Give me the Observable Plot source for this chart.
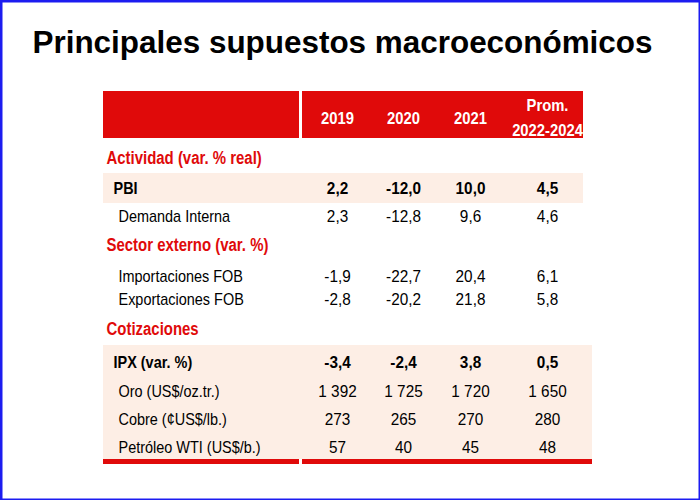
<!DOCTYPE html>
<html>
<head>
<meta charset="utf-8">
<script src="https://cdn.jsdelivr.net/npm/d3@7"></script>
<script src="https://cdn.jsdelivr.net/npm/@observablehq/plot@0.6"></script>
<style>
  html, body { margin: 0; padding: 0; background: #fff; }
  #chart { width: 700px; height: 500px; }
</style>
</head>
<body>
<div id="chart"></div>
<script>
// ---- data ----
const title = "Principales supuestos macroeconómicos";
const columnHeaders = ["2019", "2020", "2021", "Prom.\n2022-2024"];
const sections = ["Actividad (var. % real)", "Sector externo (var. %)", "Cotizaciones"];
const rowLabels = ["PBI", "Demanda Interna", "Importaciones FOB", "Exportaciones FOB",
                   "IPX (var. %)", "Oro (US$/oz.tr.)", "Cobre (¢US$/lb.)", "Petróleo WTI (US$/b.)"];
const pbi            = [2.2, -12.0, 10.0, 4.5];
const demandaInterna = [2.3, -12.8, 9.6, 4.6];
const importaciones  = [-1.9, -22.7, 20.4, 6.1];
const exportaciones  = [-2.8, -20.2, 21.8, 5.8];
const ipx            = [-3.4, -2.4, 3.8, 0.5];
const oro            = [1392, 1725, 1720, 1650];
const cobre          = [273, 265, 270, 280];
const petroleo       = [57, 40, 45, 48];

// ---- formatting (Spanish style) ----
const loc = d3.formatLocale({decimal: ",", thousands: " ", grouping: [3], currency: ["", ""], minus: "-"});
const fPct = loc.format(".1f");
const fLvl = loc.format(",d");

// ---- layout ----
const RED = "#e00a0a";
const PEACH = "#fdeee5";
const FONT = "'Liberation Sans', Arial, Helvetica, sans-serif";
const colX = [337, 403, 470, 547];
const labelX = {section: 106, bold: 113, normal: 118};
const sectionY = [158, 245, 329];
const rowY = [188, 216, 276, 299, 362, 391, 419, 447];
const rowKind = ["bold", "normal", "normal", "normal", "bold", "normal", "normal", "normal"];
const rowSeries = [pbi, demandaInterna, importaciones, exportaciones, ipx, oro, cobre, petroleo];
const rowFmt = [fPct, fPct, fPct, fPct, fPct, fLvl, fLvl, fLvl];

const rows = rowLabels.map((label, i) => ({label, kind: rowKind[i], y: rowY[i]}));
const cells = rowSeries.flatMap((vals, i) => vals.map((v, j) => ({
  text: rowFmt[i](v), x: colX[j], y: rowY[i], bold: rowKind[i] === "bold"
})));
const headers = columnHeaders.map((h, j) => ({text: h, x: colX[j], y: 115}));
const secs = sections.map((s, i) => ({text: s, y: sectionY[i]}));

const bands = [
  {x1: 103, x2: 583, y1: 173, y2: 203, fill: PEACH},
  {x1: 103, x2: 592, y1: 345, y2: 459, fill: PEACH},
  {x1: 103, x2: 299, y1: 91, y2: 138, fill: RED},
  {x1: 302, x2: 583, y1: 91, y2: 138, fill: RED},
  {x1: 103, x2: 299, y1: 459, y2: 464, fill: RED},
  {x1: 302, x2: 592, y1: 459, y2: 464, fill: RED}
];

const boldRows = rows.filter(d => d.kind === "bold");
const normRows = rows.filter(d => d.kind !== "bold");

const chart = Plot.plot({
  width: 700,
  height: 500,
  margin: 0,
  x: {domain: [0, 700], range: [0, 700], axis: null},
  y: {domain: [0, 500], range: [0, 500], axis: null},
  style: {fontFamily: FONT, background: "#fff"},
  marks: [
    Plot.rect(bands, {x1: "x1", x2: "x2", y1: "y1", y2: "y2", fill: "fill"}),
    Plot.text([title], {text: d => d, x: 32, y: 42, textAnchor: "start", fontSize: 32, fontWeight: "bold", fill: "#000", className: "ttl"}),
    Plot.text(headers, {text: "text", x: "x", y: "y", fill: "#fff", fontSize: 17, fontWeight: "bold", lineHeight: 1.47, className: "hdr"}),
    Plot.text(secs, {text: "text", x: labelX.section, y: "y", textAnchor: "start", fill: RED, fontSize: 18, fontWeight: "bold", className: "sec"}),
    Plot.text(boldRows, {text: "label", x: labelX.bold, y: "y", textAnchor: "start", fill: "#000", fontSize: 17, fontWeight: "bold", className: "lbl"}),
    Plot.text(normRows, {text: "label", x: labelX.normal, y: "y", textAnchor: "start", fill: "#000", fontSize: 17, className: "lbl"}),
    Plot.text(cells.filter(d => d.bold), {text: "text", x: "x", y: "y", fill: "#000", fontSize: 17, fontWeight: "bold", className: "num"}),
    Plot.text(cells.filter(d => !d.bold), {text: "text", x: "x", y: "y", fill: "#000", fontSize: 17, className: "num"}),
    Plot.frame({stroke: "#1c1cf0", strokeWidth: 4})
  ]
});
document.getElementById("chart").appendChild(chart);

// condense glyphs horizontally (reference uses a narrow sans face)
const squeeze = {ttl: null, hdr: 0.87, sec: 0.83, lbl: 0.85, num: 0.9};
requestAnimationFrame(() => {
  for (const [cls, k] of Object.entries(squeeze)) {
    d3.select(chart).selectAll(`.${cls} text`).each(function () {
      const tspans = this.querySelectorAll("tspan");
      const targets = tspans.length ? Array.from(tspans) : [this];
      for (const el of targets) {
        const len = el.getComputedTextLength();
        el.setAttribute("textLength", k === null ? 620 : len * k);
        el.setAttribute("lengthAdjust", "spacingAndGlyphs");
      }
    });
  }
});
</script>
</body>
</html>
